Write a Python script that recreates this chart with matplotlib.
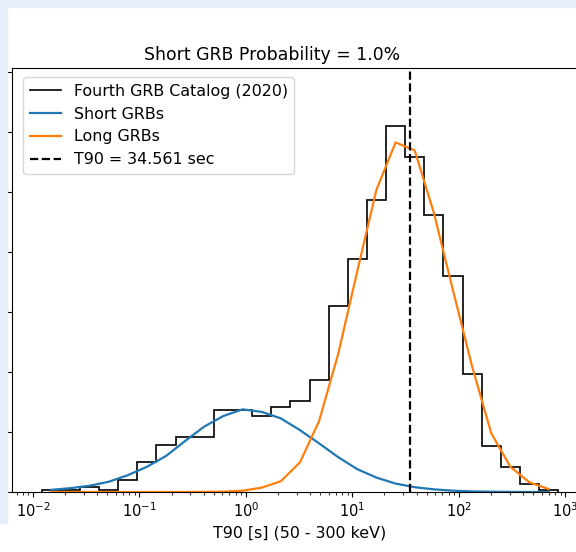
import numpy as np
import matplotlib.pyplot as plt
from matplotlib.patches import Rectangle


# T90 binning (log10 of the first and last bin edge, in seconds)
log_t90_lo, log_t90_hi = -1.918, 2.932
n_bins = 27

# Fourth GBM catalog, counts per bin
grb_counts = [2, 2, 4, 2, 10, 25, 39, 46, 46, 68, 68, 63, 71, 76,
              93, 155, 194, 243, 305, 279, 231, 180, 98, 38, 21, 7, 2]

# Fitted components evaluated at the bin centres
short_model = [1.8, 3.2, 5.2, 8.5, 14.0, 21.0, 30.0, 42.5, 54.5, 63.3,
               68.8, 66.7, 61.3, 51.5, 40.5, 29.0, 19.0, 12.0, 7.0, 4.0,
               2.2, 1.1, 0.5, 0.22, 0.09, 0.03, 0.01]
long_model = [0.0, 0.0, 0.0, 0.0, 0.0, 0.0, 0.0, 0.02, 0.1, 0.3,
              1.1, 3.6, 9.0, 24.7, 59.0, 115.0, 184.0, 251.7, 291.0, 284.4,
              232.5, 168.0, 104.6, 49.0, 21.0, 8.0, 2.5]

t90 = 34.561
short_prob = 1.0

edges = np.logspace(log_t90_lo, log_t90_hi, n_bins + 1)
centers = np.sqrt(edges[:-1] * edges[1:])

fig = plt.figure(figsize=(5.76, 5.52), dpi=100)
ax = fig.add_axes([11.7/576, 60/552, 575/576, 424/552])

ax.stairs(grb_counts, edges, color='k', lw=1.2, label='Fourth GRB Catalog (2020)')
ax.plot(centers, short_model, lw=1.6, label='Short GRBs')
ax.plot(centers, long_model, lw=1.6, label='Long GRBs')
ax.axvline(t90, color='k', ls='--', lw=1.6, label=f'T90 = {t90} sec')

ax.set_xscale('log')
ax.set_xlim(10**-2.2, 10**3.2)
ax.set_ylim(0, 353)
ax.set_yticks(np.arange(0, 351, 50))
ax.tick_params(axis='y', labelleft=False)
ax.tick_params(axis='x', labelsize=10.5)
ax.set_xlabel('T90 [s] (50 - 300 keV)', fontsize=11.4)
ax.set_title(f'Short GRB Probability = {short_prob}%', x=0.452, fontsize=12.4)
ax.legend(loc='upper left', bbox_to_anchor=(0.0202, 0.978), borderaxespad=0,
          fontsize=11.4)

# page background showing round the cropped figure
bg = '#e8effc'
fig.add_artist(Rectangle((0, 1 - 7/552), 1, 7/552, transform=fig.transFigure,
                         color=bg, zorder=5))
fig.add_artist(Rectangle((0, 29/552), 7/576, 523/552, transform=fig.transFigure,
                         color=bg, zorder=5))

fig.savefig('out.png', dpi=100)
